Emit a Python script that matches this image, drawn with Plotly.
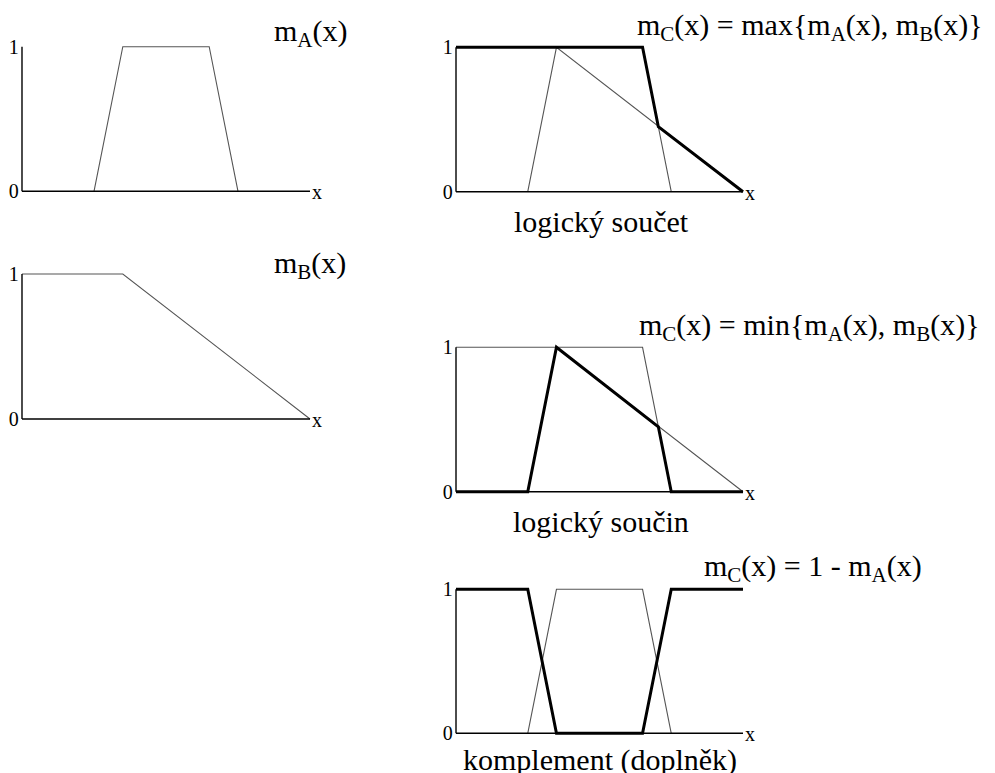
import plotly.graph_objects as go

# the page body adds an 8 px margin, so the figure is drawn 8 px in from the window edge
OFF = 8
W, H = 995 - OFF, 773 - OFF

# ---------------- data (x in arbitrary units 0..10, membership 0..1) ----------------
mA_trap_x = [2.5, 3.5, 6.5, 7.5]
mA_trap_y = [0, 1, 1, 0]

mB_x = [0, 3.5, 10]
mB_y = [1, 1, 0]

max_x = [0, 6.5, 7.05, 10]
max_y = [1, 1, 0.45, 0]

min_x = [0, 2.5, 3.5, 7.05, 7.5, 10]
min_y = [0, 0, 1, 0.45, 0, 0]

compl_x = [0, 2.5, 3.5, 6.5, 7.5, 10]
compl_y = [1, 1, 0, 0, 1, 1]

y_ticks = [0, 1]
y_tick_labels = ["0", "1"]

panel_titles = [
    "m<sub>A</sub>(x)",
    "m<sub>B</sub>(x)",
    "m<sub>C</sub>(x) = max{m<sub>A</sub>(x), m<sub>B</sub>(x)}",
    "m<sub>C</sub>(x) = min{m<sub>A</sub>(x), m<sub>B</sub>(x)}",
    "m<sub>C</sub>(x) = 1 - m<sub>A</sub>(x)",
]
panel_captions = [None, None, "logický součet", "logický součin", "komplement (doplněk)"]

# ---------------- layout geometry (window pixels) ----------------
# (x pixel of data 0, x pixel of data 10, y pixel of data 1, y pixel of data 0)
panels = [
    (22, 310, 46.7, 191.3),
    (22, 310, 274, 419),
    (456, 743, 47.3, 191.7),
    (456, 743, 347.3, 491.7),
    (456, 743, 589.3, 733.3),
]
title_pos = [(272, 33), (272, 265), (635, 27), (637, 327), (702, 568)]
caption_pos = [None, None, (601, 221), (601, 521), (600, 760)]

XL, XR = -0.08, 10.4
YB, YT = -0.05, 1.05

FONT = "Times New Roman, Liberation Serif, serif"
THIN = dict(color="#555555", width=1.1)
THICK = dict(color="#000000", width=3)

fig = go.Figure()

def fx(px):
    return (px - OFF) / W

def fy(py):
    return 1 - (py - OFF) / H

def add_axes(i):
    x0p, x1p, y1p, y0p = panels[i]
    sx = (x1p - x0p) / 10.0
    sy = (y0p - y1p) / 1.0
    left = x0p + XL * sx
    right = x0p + XR * sx
    top = y0p - YT * sy
    bottom = y0p - YB * sy
    n = "" if i == 0 else str(i + 1)
    fig.layout["xaxis" + n] = dict(
        domain=[fx(left), fx(right)], range=[XL, XR], anchor="y" + n,
        visible=False, fixedrange=True, automargin=False,
    )
    fig.layout["yaxis" + n] = dict(
        domain=[fy(bottom), fy(top)], range=[YB, YT], anchor="x" + n,
        showgrid=False, zeroline=False, showline=False, ticks="",
        tickvals=y_ticks, ticktext=y_tick_labels, ticklabelstandoff=0,
        tickfont=dict(family=FONT, size=20, color="black"), fixedrange=True,
        automargin=False,
    )
    xr, yr = "x" + n, "y" + n
    fig.add_shape(type="line", xref=xr, yref=yr, x0=0, x1=10, y0=0, y1=0,
                  line=dict(color="black", width=1.4))
    fig.add_shape(type="line", xref=xr, yref=yr, x0=0, x1=0, y0=0, y1=1,
                  line=dict(color="black", width=1.4))
    fig.add_annotation(x=10, y=0, xref=xr, yref=yr, text="x", showarrow=False,
                       xanchor="left", yanchor="middle", xshift=0, yshift=-1,
                       font=dict(family=FONT, size=20, color="black"))
    return xr, yr

def line(xr, yr, xs, ys, style):
    fig.add_trace(go.Scatter(x=xs, y=ys, xaxis=xr, yaxis=yr, mode="lines",
                             line=style, hoverinfo="skip", showlegend=False))

xr, yr = add_axes(0)
line(xr, yr, mA_trap_x, mA_trap_y, THIN)
xr, yr = add_axes(1)
line(xr, yr, mB_x, mB_y, THIN)
xr, yr = add_axes(2)
line(xr, yr, mA_trap_x, mA_trap_y, THIN)
line(xr, yr, mB_x, mB_y, THIN)
line(xr, yr, max_x, max_y, THICK)
xr, yr = add_axes(3)
line(xr, yr, mA_trap_x, mA_trap_y, THIN)
line(xr, yr, mB_x, mB_y, THIN)
line(xr, yr, min_x, min_y, THICK)
xr, yr = add_axes(4)
line(xr, yr, mA_trap_x, mA_trap_y, THIN)
line(xr, yr, compl_x, compl_y, THICK)

for i, t in enumerate(panel_titles):
    px, py = title_pos[i]
    fig.add_annotation(x=fx(px), y=fy(py), xref="paper", yref="paper", text=t,
                       showarrow=False, xanchor="left", yanchor="middle",
                       font=dict(family=FONT, size=30, color="black"))
for i, c in enumerate(panel_captions):
    if c is None:
        continue
    px, py = caption_pos[i]
    fig.add_annotation(x=fx(px), y=fy(py), xref="paper", yref="paper", text=c,
                       showarrow=False, xanchor="center", yanchor="middle",
                       font=dict(family=FONT, size=30, color="black"))

fig.update_layout(template="none", width=W, height=H,
                  margin=dict(l=0, r=0, t=0, b=0, autoexpand=False),
                  paper_bgcolor="white", plot_bgcolor="white", showlegend=False)

fig.write_html("out.html", config={"displayModeBar": False})
